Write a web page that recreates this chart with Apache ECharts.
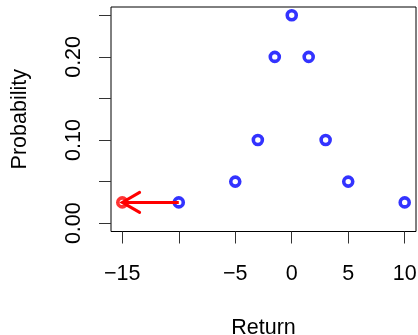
<!DOCTYPE html>
<html><head><meta charset="utf-8">
<script src="https://cdn.jsdelivr.net/npm/echarts@6/dist/echarts.min.js"></script>
<style>html,body{margin:0;padding:0;background:#fff}#c{width:418px;height:335px}</style>
</head><body><div id="c"></div>
<script>
const returns = [-10, -5, -3, -1.5, 0, 1.5, 3, 5, 10];
const probs = [0.025, 0.05, 0.1, 0.2, 0.25, 0.2, 0.1, 0.05, 0.025];
const arrowFrom = [-10, 0.025];
const arrowTo = [-15, 0.025];
const xTicks = [-15, -10, -5, 0, 5, 10];
const xLabels = [-15, -5, 0, 5, 10];
const yTicks = [0, 0.05, 0.1, 0.15, 0.2, 0.25];
const yLabels = [0, 0.1, 0.2];

const FONT = 'Liberation Sans, Arial, Helvetica, sans-serif';
const FS = 21.5;
const chart = echarts.init(document.getElementById('c'), null, {renderer: 'canvas'});

const ring = (c) => ({color: 'rgba(0,0,0,0)', borderColor: c, borderWidth: 3.6});

chart.setOption({
  animation: false,
  backgroundColor: '#fff',
  grid: {left: 111, right: 2, top: 7, bottom: 103.5, show: true, borderColor: '#000', borderWidth: 1,
    backgroundColor: 'transparent', containLabel: false, outerBoundsMode: 'none'},
  xAxis: {
    type: 'value', min: -16, max: 11,
    axisLine: {show: false, onZero: false},
    splitLine: {show: false},
    axisTick: {show: true, customValues: xTicks, length: 12, inside: false, lineStyle: {color: '#333', width: 1}},
    axisLabel: {customValues: xLabels, fontSize: FS, fontFamily: FONT, color: '#000', margin: 32,
      formatter: v => (v < 0 ? '\u2212' + Math.abs(v) : String(v))},
    name: 'Return', nameLocation: 'middle', nameGap: 86,
    nameTextStyle: {fontSize: FS, fontFamily: FONT, color: '#000'}
  },
  yAxis: {
    type: 'value', min: -0.01, max: 0.26,
    axisLine: {show: false, onZero: false},
    splitLine: {show: false},
    axisTick: {show: true, customValues: yTicks, length: 12, inside: false, lineStyle: {color: '#333', width: 1}},
    axisLabel: {customValues: yLabels, rotate: 90, fontSize: FS, fontFamily: FONT, color: '#000', margin: 26,
      formatter: v => v.toFixed(2)},
    name: 'Probability', nameLocation: 'middle', nameGap: 80, nameRotate: 90,
    nameTextStyle: {fontSize: FS, fontFamily: FONT, color: '#000'}
  },
  series: [
    {
      type: 'scatter', symbol: 'circle', symbolSize: 9,
      data: returns.map((x, i) => [x, probs[i]]),
      itemStyle: ring('#0000ff'), emphasis: {disabled: true}, z: 3
    },
    {
      type: 'scatter', symbol: 'circle', symbolSize: 9,
      data: [arrowTo.slice()],
      itemStyle: ring('#ff0000'), emphasis: {disabled: true}, z: 3
    },
    {
      type: 'custom', z: 4,
      encode: {x: [0, 2], y: [1, 3]},
      data: [[arrowFrom[0], arrowFrom[1], arrowTo[0], arrowTo[1]]],
      renderItem: function (params, api) {
        const p0 = api.coord([api.value(0), api.value(1)]);
        const p1 = api.coord([api.value(2), api.value(3)]);
        const ang = Math.atan2(p1[1] - p0[1], p1[0] - p0[0]);
        const L = 20, a = Math.PI / 6;
        const h1 = [p1[0] - L * Math.cos(ang - a), p1[1] - L * Math.sin(ang - a)];
        const h2 = [p1[0] - L * Math.cos(ang + a), p1[1] - L * Math.sin(ang + a)];
        return {type: 'group', children: [
          {type: 'line', shape: {x1: p0[0], y1: p0[1], x2: p1[0], y2: p1[1]}, style: {stroke: '#ff0000', lineWidth: 3}},
          {type: 'polyline', shape: {points: [h1, p1, h2]}, style: {stroke: '#ff0000', lineWidth: 3, fill: null, lineCap: 'round'}}
        ]};
      }
    }
  ]
});
</script></body></html>
